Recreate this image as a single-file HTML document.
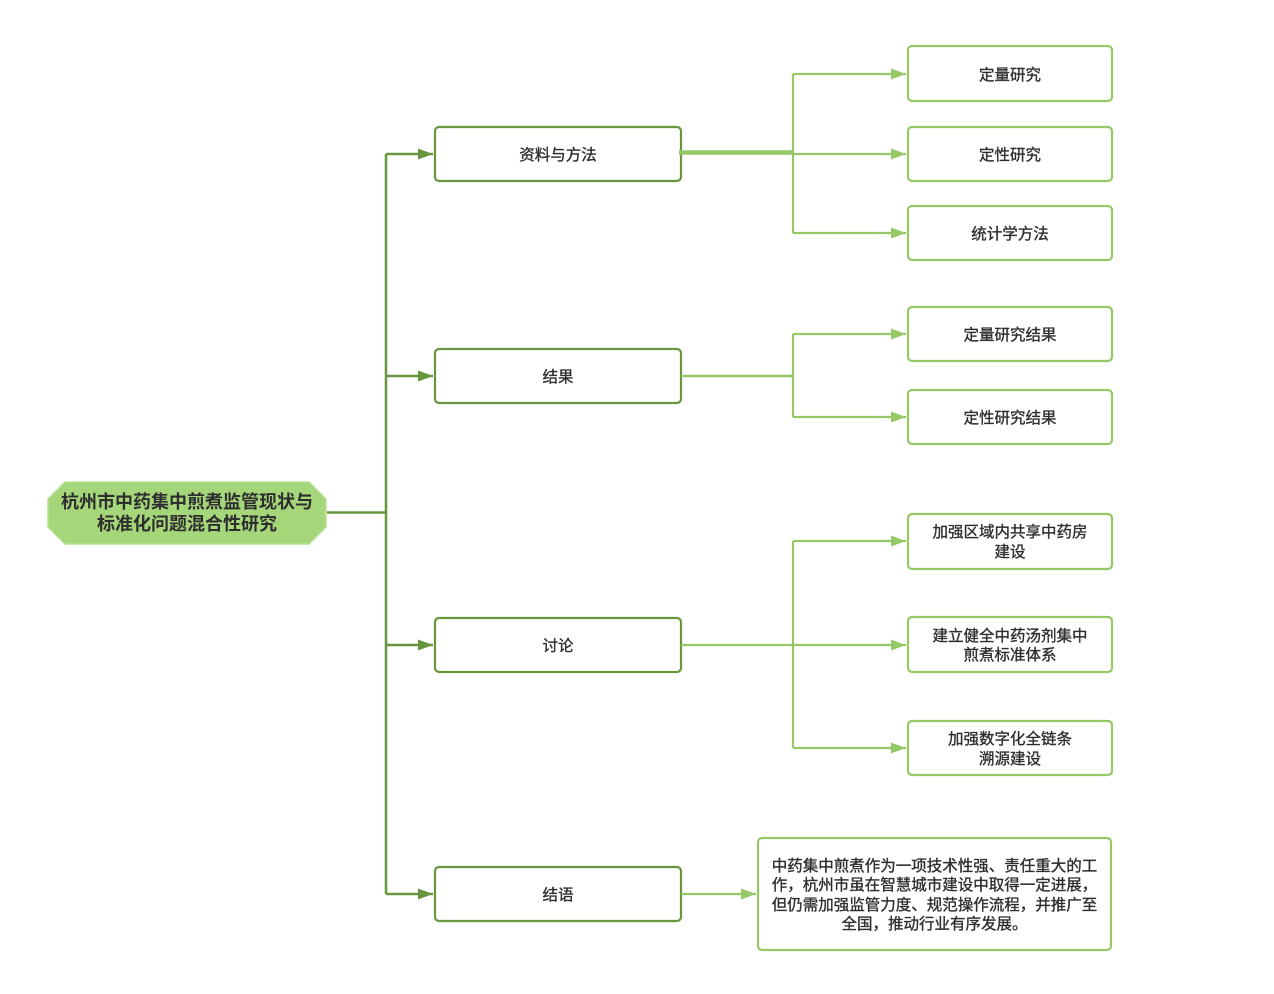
<!DOCTYPE html>
<html><head><meta charset="utf-8"><style>
html,body{margin:0;padding:0;background:#fff;}
svg{display:block;}
text{font-family:"Liberation Sans","Noto Sans CJK SC",sans-serif;fill:#2e2e2e;}
.t{stroke:#2e2e2e;stroke-width:0.35;}
</style></head><body>
<svg width="1274" height="994" viewBox="0 0 1274 994" xmlns="http://www.w3.org/2000/svg">
<defs>
<marker id="ad" markerWidth="17" markerHeight="12" refX="15" refY="5.5" orient="auto" markerUnits="userSpaceOnUse"><path d="M0,0 L15,5.5 L0,11 Z" fill="#67963e"/></marker>
<marker id="al" markerWidth="17" markerHeight="12" refX="15" refY="5.5" orient="auto" markerUnits="userSpaceOnUse"><path d="M0,0 L15,5.5 L0,11 Z" fill="#96c868"/></marker>
</defs>

<!-- main node -->
<polygon points="65,482 309,482 326,499 326,527 309,544 65,544 48,527 48,499" fill="#a5d67a" stroke="#b8e293" stroke-width="1.5"/>
<text x="187" y="508" text-anchor="middle" font-size="18" font-weight="bold">杭州市中药集中煎煮监管现状与</text>
<text x="187" y="530" text-anchor="middle" font-size="18" font-weight="bold">标准化问题混合性研究</text>

<!-- trunk -->
<g stroke="#67963e" stroke-width="2.5" fill="none">
<line x1="327" y1="512.5" x2="386" y2="512.5"/>
<line x1="386" y1="154" x2="386" y2="894"/>
<line x1="386" y1="154" x2="433" y2="154" marker-end="url(#ad)"/>
<line x1="386" y1="376" x2="433" y2="376" marker-end="url(#ad)"/>
<line x1="386" y1="645" x2="433" y2="645" marker-end="url(#ad)"/>
<line x1="386" y1="894" x2="433" y2="894" marker-end="url(#ad)"/>
</g>

<!-- level1 boxes -->
<g fill="#fff" stroke="#67963e" stroke-width="2.2">
<rect x="435" y="127" width="246" height="54" rx="4"/>
<rect x="435" y="349" width="246" height="54" rx="4"/>
<rect x="435" y="618" width="246" height="54" rx="4"/>
<rect x="435" y="867" width="246" height="54" rx="4"/>
</g>
<g font-size="15.5" text-anchor="middle" class="t">
<text x="558" y="160">资料与方法</text>
<text x="558" y="382">结果</text>
<text x="558" y="651">讨论</text>
<text x="558" y="900">结语</text>
</g>

<!-- level2 connectors -->
<g stroke="#96c868" stroke-width="2.2" fill="none">
<line x1="679" y1="152.5" x2="793" y2="152.5" stroke-width="4.5"/>
<polyline points="793,74 793,233"/>
<line x1="793" y1="74" x2="906" y2="74" marker-end="url(#al)"/>
<line x1="793" y1="154" x2="906" y2="154" marker-end="url(#al)"/>
<line x1="793" y1="233" x2="906" y2="233" marker-end="url(#al)"/>

<line x1="681" y1="376" x2="793" y2="376" stroke-width="2.5"/>
<polyline points="793,334 793,417"/>
<line x1="793" y1="334" x2="906" y2="334" marker-end="url(#al)"/>
<line x1="793" y1="417" x2="906" y2="417" marker-end="url(#al)"/>

<line x1="681" y1="645" x2="906" y2="645" marker-end="url(#al)"/>
<polyline points="793,541 793,748"/>
<line x1="793" y1="541" x2="906" y2="541" marker-end="url(#al)"/>
<line x1="793" y1="748" x2="906" y2="748" marker-end="url(#al)"/>

<line x1="681" y1="894" x2="756" y2="894" marker-end="url(#al)"/>
</g>

<!-- level2 boxes -->
<g fill="#fff" stroke="#96c868" stroke-width="2.2">
<rect x="908" y="46" width="204" height="55" rx="4"/>
<rect x="908" y="127" width="204" height="54" rx="4"/>
<rect x="908" y="206" width="204" height="54" rx="4"/>
<rect x="908" y="307" width="204" height="54" rx="4"/>
<rect x="908" y="390" width="204" height="54" rx="4"/>
<rect x="908" y="514" width="204" height="55" rx="4"/>
<rect x="908" y="617" width="204" height="55" rx="4"/>
<rect x="908" y="721" width="204" height="54" rx="4"/>
<rect x="758" y="838" width="353" height="112" rx="4"/>
</g>
<g font-size="15.5" text-anchor="middle" class="t">
<text x="1010" y="80">定量研究</text>
<text x="1010" y="160">定性研究</text>
<text x="1010" y="239">统计学方法</text>
<text x="1010" y="340">定量研究结果</text>
<text x="1010" y="423">定性研究结果</text>
<text x="1010" y="537">加强区域内共享中药房</text>
<text x="1010" y="557">建设</text>
<text x="1010" y="641">建立健全中药汤剂集中</text>
<text x="1010" y="660">煎煮标准体系</text>
<text x="1010" y="744">加强数字化全链条</text>
<text x="1010" y="764">溯源建设</text>
<text x="934.5" y="871">中药集中煎煮作为一项技术性强、责任重大的工</text>
<text x="934.5" y="890">作，杭州市虽在智慧城市建设中取得一定进展，</text>
<text x="934.5" y="910">但仍需加强监管力度、规范操作流程，并推广至</text>
<text x="934.5" y="929">全国，推动行业有序发展。</text>
</g>
</svg>
</body></html>
